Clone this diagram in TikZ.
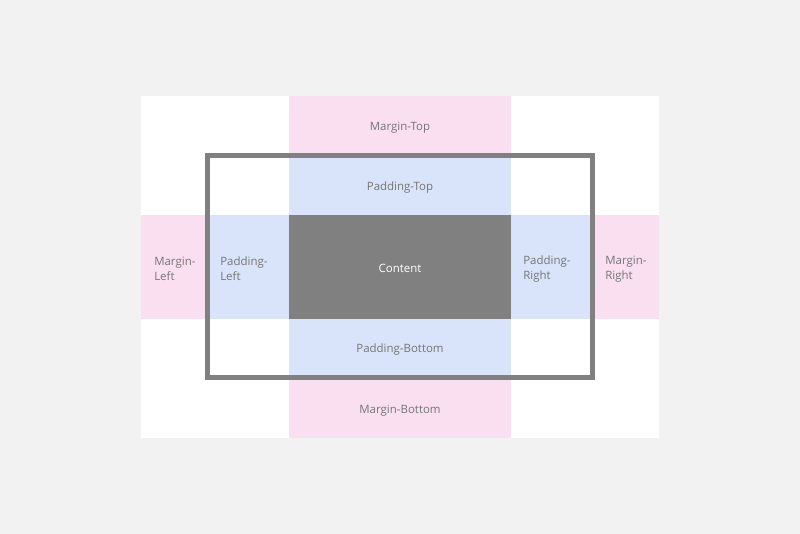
\documentclass[tikz,border=0pt]{standalone}
\usepackage{fontspec}
\setmainfont{Open Sans}
\usepackage{tikz}
\definecolor{bggray}{HTML}{F2F2F2}
\definecolor{marginpink}{HTML}{FADFF0}
\definecolor{paddingblue}{HTML}{D9E4FA}
\definecolor{contentgray}{HTML}{808080}
\definecolor{textgray}{HTML}{757575}
\tikzset{
  marginbox/.style={fill=marginpink},
  paddingbox/.style={fill=paddingblue},
  contentbox/.style={fill=contentgray},
  boxlabel/.style={text=textgray, font=\fontsize{8.6}{11.25}\selectfont, inner sep=0pt},
  sidelabel/.style={boxlabel, anchor=west, align=left},
}

\begin{document}
\begin{tikzpicture}[x=0.75pt,y=-0.75pt]
      % background and the white box
      \fill[bggray] (0,0) rectangle (800,534);
      \useasboundingbox (0,0) rectangle (800,534);
      \fill[white] (141,96) rectangle (659,438);

      % margins
      \fill[marginbox] (289,96) rectangle (511,155.8);
      \fill[marginbox] (141,215) rectangle (207.5,319);
      \fill[marginbox] (592.5,215) rectangle (659,319);
      \fill[marginbox] (289,378) rectangle (511,438);

      % paddings
      \fill[paddingbox] (289,155.8) rectangle (511,215);
      \fill[paddingbox] (207.5,215) rectangle (289,319);
      \fill[paddingbox] (511,215) rectangle (592.5,319);
      \fill[paddingbox] (289,319) rectangle (511,378);

      % content
      \fill[contentbox] (289,215) rectangle (511,319);

      % border
      \draw[contentgray, line width=3.75pt] (207.5,155.8) rectangle (592.5,378);

      \node[boxlabel] (mtop) at (400,128) {Margin-Top};
      \node[boxlabel] (ptop) at (400,188) {Padding-Top};
      \node[boxlabel, text=white] (content) at (400,268.5) {Content};
      \node[boxlabel] (pbottom) at (400,350) {Padding-Bottom};
      \node[boxlabel] (mbottom) at (400,411) {Margin-Bottom};
      \node[sidelabel] (mleft) at (154,269) {Margin-\\Left};
      \node[sidelabel] (pleft) at (220,269) {Padding-\\Left};
      \node[sidelabel] (pright) at (523,269) {Padding-\\Right};
      \node[sidelabel] (mright) at (605,269) {Margin-\\Right};
    \end{tikzpicture}
\end{document}
